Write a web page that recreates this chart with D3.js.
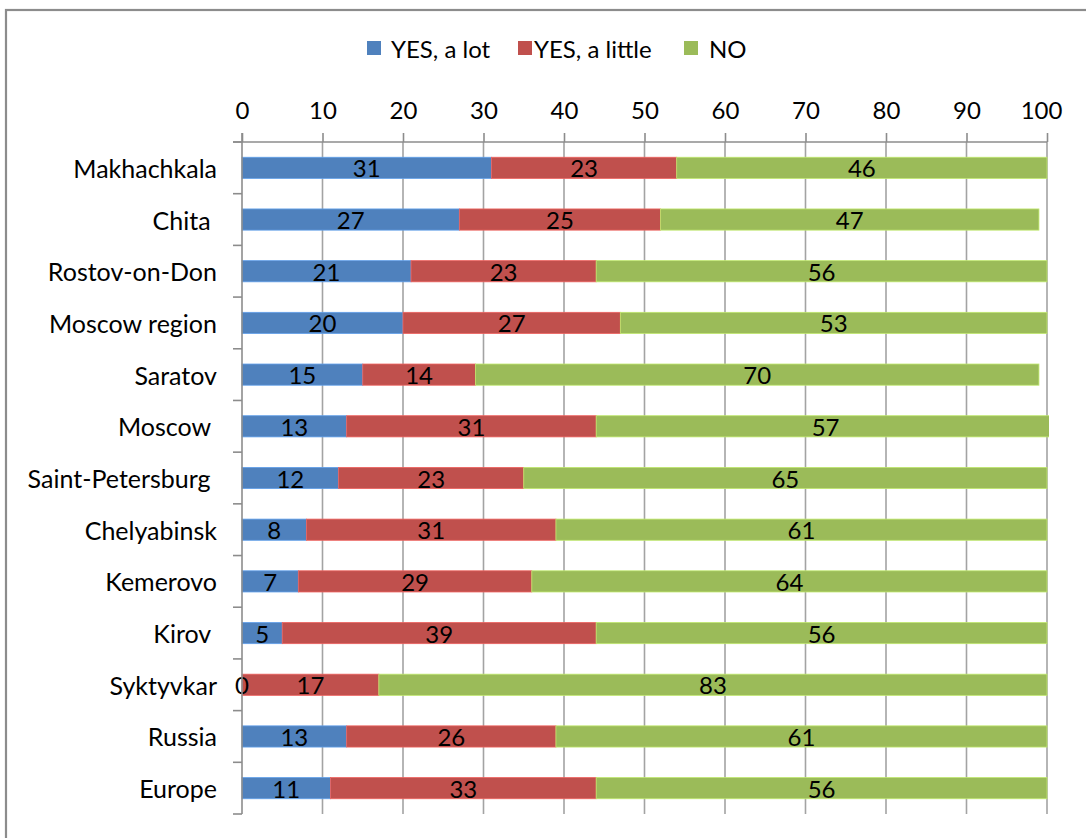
<!DOCTYPE html>
<html>
<head>
<meta charset="utf-8">
<script src="https://cdn.jsdelivr.net/npm/d3@7"></script>
<style>
  html, body { margin: 0; padding: 0; background: #fff; }
  svg { display: block; }
  text { font-family: Lato, "Open Sans", sans-serif; fill: #000; }
</style>
</head>
<body>
<svg id="chart" width="1086" height="838"></svg>
<script>
// Survey answers per city (percent of respondents)
const categories = ["Makhachkala", "Chita ", "Rostov-on-Don", "Moscow region", "Saratov", "Moscow ",
  "Saint-Petersburg ", "Chelyabinsk", "Kemerovo", "Kirov ", "Syktyvkar", "Russia", "Europe"];
const yesALot    = [31, 27, 21, 20, 15, 13, 12, 8, 7, 5, 0, 13, 11];
const yesALittle = [23, 25, 23, 27, 14, 31, 23, 31, 29, 39, 17, 26, 33];
const no         = [46, 47, 56, 53, 70, 57, 65, 61, 64, 56, 83, 61, 56];
const seriesNames = ["YES, a lot", "YES, a little", "NO"];
const seriesColors = ["#4F81BD", "#C0504D", "#9BBB59"];
const xTickValues = [0, 10, 20, 30, 40, 50, 60, 70, 80, 90, 100];

const svg = d3.select("#chart");
const plotLeft = 242, plotRight = 1047, plotTop = 142, plotBottom = 814;
const fontSize = 24;

const x = d3.scaleLinear().domain([0, 100]).range([plotLeft, plotRight]);
const y = d3.scaleBand().domain(categories).range([plotTop, plotBottom]).paddingInner(0.59).paddingOuter(0.295);

// outer frame
svg.append("rect").attr("x", 6).attr("y", 10).attr("width", 1200).attr("height", 1000)
  .attr("fill", "none").attr("stroke", "#8c8c8c").attr("stroke-width", 2.2);

// vertical gridlines
svg.append("g").selectAll("line").data(xTickValues.filter(v => v > 0)).join("line")
  .attr("x1", d => x(d)).attr("x2", d => x(d)).attr("y1", plotTop).attr("y2", plotBottom)
  .attr("stroke", "#a3a3a3").attr("stroke-width", 1.6);

// stacked bars
const rows = categories.map((c, i) => ({ cat: c, values: [yesALot[i], yesALittle[i], no[i]] }));
const stacked = [];
rows.forEach(r => {
  let acc = 0;
  r.values.forEach((v, k) => { stacked.push({ cat: r.cat, k, v, x0: acc, x1: acc + v }); acc += v; });
});

svg.append("clipPath").attr("id", "plotClip").append("rect")
  .attr("x", plotLeft - 2).attr("y", plotTop).attr("width", plotRight - plotLeft + 4).attr("height", plotBottom - plotTop);

const barG = svg.append("g").attr("clip-path", "url(#plotClip)");
barG.selectAll("rect").data(stacked.filter(d => d.v > 0)).join("rect")
  .attr("x", d => x(d.x0)).attr("width", d => x(d.x1) - x(d.x0))
  .attr("y", d => y(d.cat)).attr("height", y.bandwidth())
  .attr("fill", d => seriesColors[d.k])
  .attr("stroke", d => d3.color(seriesColors[d.k]).brighter(0.6)).attr("stroke-width", 0.8);

// value labels
svg.append("g").selectAll("text").data(stacked).join("text")
  .attr("x", d => x((d.x0 + d.x1) / 2)).attr("y", d => y(d.cat) + y.bandwidth() / 2)
  .attr("text-anchor", "middle").attr("dominant-baseline", "central")
  .attr("font-size", fontSize).text(d => d.v);

// top axis
const xAxis = d3.axisTop(x).tickValues(xTickValues).tickSize(9).tickPadding(14).tickSizeOuter(0);
const gx = svg.append("g").attr("transform", `translate(0,${plotTop})`).call(xAxis);
gx.select(".domain").attr("stroke", "#8c8c8c").attr("stroke-width", 1.6).attr("d", `M${plotLeft - 9},0H${plotRight}`);
gx.selectAll(".tick line").attr("stroke", "#8c8c8c").attr("stroke-width", 1.6);
gx.selectAll(".tick text").attr("font-size", fontSize).attr("font-family", "Lato, sans-serif").attr("fill", "#000");
// keep the last label inside the chart area
gx.selectAll(".tick").filter(d => d === 100).select("text").attr("dx", -6);

// left axis line with ticks on band boundaries
const step = y.step();
const boundaries = d3.range(categories.length + 1).map(i => plotTop + i * step);
const gy = svg.append("g");
gy.append("line").attr("x1", plotLeft).attr("x2", plotLeft).attr("y1", plotTop - 9).attr("y2", plotBottom)
  .attr("stroke", "#8c8c8c").attr("stroke-width", 1.6);
gy.selectAll(".bt").data(boundaries).join("line").attr("class", "bt")
  .attr("x1", plotLeft - 9).attr("x2", plotLeft).attr("y1", d => d).attr("y2", d => d)
  .attr("stroke", "#8c8c8c").attr("stroke-width", 1.6);

// category labels
svg.append("g").selectAll("text").data(categories).join("text")
  .attr("x", 217).attr("y", d => y(d) + y.bandwidth() / 2)
  .attr("text-anchor", "end").attr("dominant-baseline", "central")
  .attr("font-size", 25).style("white-space", "pre").text(d => d);

// legend
const legendPos = [{ sq: 367, tx: 391 }, { sq: 518, tx: 534 }, { sq: 684, tx: 709 }];
const lg = svg.append("g");
seriesNames.forEach((name, i) => {
  lg.append("rect").attr("x", legendPos[i].sq).attr("y", 41).attr("width", 14).attr("height", 14)
    .attr("fill", seriesColors[i]);
  lg.append("text").attr("x", legendPos[i].tx).attr("y", 48).attr("dominant-baseline", "central")
    .attr("font-size", fontSize).text(name);
});
</script>
</body>
</html>
